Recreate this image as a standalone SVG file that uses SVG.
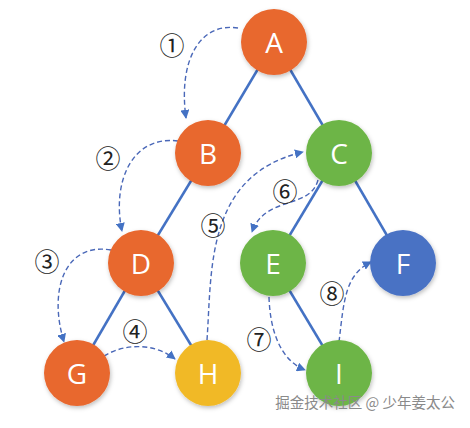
<svg xmlns="http://www.w3.org/2000/svg" width="470" height="428" viewBox="0 0 470 428">
<style>
.edge{stroke:#4472C4;stroke-width:2.5;fill:none}
.trav{stroke:#4A68B8;stroke-width:1.4;fill:none;stroke-dasharray:5 3}
.node text{font-family:"Open Sans","Liberation Sans",sans-serif;font-size:28px;fill:#fff;text-anchor:middle;dominant-baseline:central}
.num{font-family:"Noto Sans CJK SC","DejaVu Sans",sans-serif;font-size:25px;fill:#222;text-anchor:middle;dominant-baseline:central}
.o{fill:#E8672E}.g{fill:#6DB546}.b{fill:#4A72C4}.y{fill:#F1B928}
</style>
<defs>
<marker id="ah" viewBox="0 0 10 10" refX="9" refY="5" markerWidth="9" markerHeight="9" markerUnits="userSpaceOnUse" orient="auto"><path d="M0,0 L10,5 L0,10 z" fill="#4472C4"/></marker>
<filter id="sh" x="-20%" y="-20%" width="150%" height="150%"><feDropShadow dx="1" dy="2" stdDeviation="2" flood-color="#000" flood-opacity="0.25"/></filter>
</defs>
<g id="connectors">
<line class="edge" x1="274" y1="42" x2="208" y2="153"/>
<line class="edge" x1="274" y1="42" x2="339" y2="153"/>
<line class="edge" x1="208" y1="153" x2="141" y2="263"/>
<line class="edge" x1="339" y1="153" x2="273" y2="263"/>
<line class="edge" x1="339" y1="153" x2="403" y2="263"/>
<line class="edge" x1="141" y1="263" x2="77" y2="373"/>
<line class="edge" x1="141" y1="263" x2="208" y2="373"/>
<line class="edge" x1="273" y1="263" x2="339" y2="373"/>
<path class="trav" d="M238,28 C200,22 178,60 186,118" marker-end="url(#ah)"/>
<path class="trav" d="M178,141 C130,135 112,185 122,231" marker-end="url(#ah)"/>
<path class="trav" d="M111,250 C65,242 48,290 64,342" marker-end="url(#ah)"/>
<path class="trav" d="M104,356 C125,343 155,343 175,359" marker-end="url(#ah)"/>
<path class="trav" d="M207,340 C212,270 205,175 303,152" marker-end="url(#ah)"/>
<path class="trav" d="M318,180 C310,210 265,195 252,232" marker-end="url(#ah)"/>
<path class="trav" d="M269,297 C270,330 280,360 305,370" marker-end="url(#ah)"/>
<path class="trav" d="M339,342 C344,300 345,275 371,262" marker-end="url(#ah)"/>
</g>
<g id="labels">
<text class="num" x="172" y="44">①</text>
<text class="num" x="108" y="157">②</text>
<text class="num" x="47" y="260">③</text>
<text class="num" x="135" y="330">④</text>
<text class="num" x="213" y="224">⑤</text>
<text class="num" x="285" y="190">⑥</text>
<text class="num" x="259" y="338">⑦</text>
<text class="num" x="332" y="292">⑧</text>
</g>
<g id="A" class="node"><circle class="o" cx="274" cy="42" r="33" filter="url(#sh)"/><text x="274" y="42">A</text></g>
<g id="B" class="node"><circle class="o" cx="208" cy="153" r="33" filter="url(#sh)"/><text x="208" y="153">B</text></g>
<g id="C" class="node"><circle class="g" cx="339" cy="153" r="33" filter="url(#sh)"/><text x="339" y="153">C</text></g>
<g id="D" class="node"><circle class="o" cx="141" cy="263" r="33" filter="url(#sh)"/><text x="141" y="263">D</text></g>
<g id="E" class="node"><circle class="g" cx="273" cy="263" r="33" filter="url(#sh)"/><text x="273" y="263">E</text></g>
<g id="F" class="node"><circle class="b" cx="403" cy="263" r="33" filter="url(#sh)"/><text x="403" y="263">F</text></g>
<g id="G" class="node"><circle class="o" cx="77" cy="373" r="33" filter="url(#sh)"/><text x="77" y="373">G</text></g>
<g id="H" class="node"><circle class="y" cx="208" cy="373" r="33" filter="url(#sh)"/><text x="208" y="373">H</text></g>
<g id="I" class="node"><circle class="g" cx="339" cy="373" r="33" filter="url(#sh)"/><text x="339" y="373">I</text></g>
<text x="455" y="408" text-anchor="end" font-family="'Noto Sans CJK SC',sans-serif" font-size="14.5" fill="#8a8a8a">掘金技术社区 @ 少年姜太公</text>
</svg>
